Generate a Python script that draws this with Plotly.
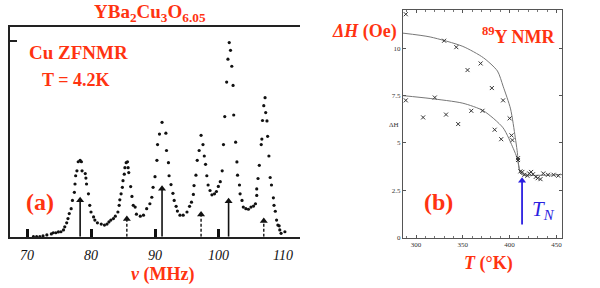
import plotly.graph_objects as go

W, H = 600, 288
RED = "#FF3311"
BLUE = "#2B1FE0"
SERIF = "Liberation Serif"

# ---------------- Panel (a): Cu zero-field NMR spectrum ----------------
freq_mhz = [71.0, 71.5, 72.0, 72.5, 73.1, 73.8, 74.1, 74.5, 74.9, 75.3,
            75.7, 75.9, 76.2, 76.4, 76.6, 76.9, 77.1, 77.4, 77.5, 77.6,
            77.8, 78.0, 78.3, 78.5, 78.6, 79.1, 79.2, 79.3, 79.6, 79.8,
            80.0, 80.4, 80.6, 81.0, 81.6, 82.1, 82.5, 82.8, 83.1, 83.5,
            83.8, 84.2, 84.4, 84.5, 84.7, 84.9, 85.0, 85.2, 85.3, 85.5,
            85.7, 85.8, 85.9, 86.2, 86.4, 86.6, 86.9, 87.1, 87.7, 88.2,
            88.7, 89.2, 89.5, 89.7, 90.0, 90.3, 90.4, 90.7, 91.1, 91.7,
            91.8, 92.1, 92.2, 92.5, 92.8, 93.0, 93.3, 93.5, 93.9, 94.4,
            95.0, 95.4, 95.7, 96.0, 96.1, 96.4, 96.6, 96.9, 97.2, 97.5,
            97.7, 97.9, 98.1, 98.3, 98.6, 98.9, 99.3, 99.6, 99.9, 100.2,
            100.5, 100.7, 100.9, 101.2, 101.4, 101.6, 101.8, 102.0, 102.2, 102.3,
            102.6, 102.8, 102.9, 103.2, 103.3, 103.6, 103.8, 104.2, 104.6, 105.0,
            105.4, 105.7, 105.9, 105.9, 106.1, 106.3, 106.6, 106.7, 106.8, 107.0,
            107.2, 107.3, 107.5, 107.6, 107.8, 108.0, 108.2, 108.5, 108.6, 108.8,
            109.0, 109.2, 109.4, 109.5, 109.7, 110.3]
intensity = [0.0, 0.0, 0.0, 0.4, 0.9, 1.4, 2.0, 2.0, 2.4, 2.5,
             3.4, 5.0, 7.0, 9.2, 11.7, 14.2, 18.4, 22.5, 26.7, 30.9,
             33.4, 38.0, 38.7, 38.0, 33.4, 32.0, 29.7, 26.7, 21.7, 15.9,
             12.5, 10.0, 8.4, 7.0, 6.4, 5.9, 6.4, 7.5, 8.4, 9.2,
             10.4, 12.5, 15.9, 18.7, 21.7, 25.0, 28.4, 31.7, 35.0, 37.5,
             38.0, 35.0, 32.5, 25.4, 20.4, 15.9, 15.0, 11.4, 10.4, 10.9,
             14.2, 16.7, 20.0, 25.0, 30.4, 38.7, 46.7, 52.0, 58.0, 52.5,
             43.7, 37.5, 30.9, 26.4, 22.0, 18.4, 15.4, 13.0, 10.9, 10.9,
             12.5, 15.4, 17.5, 21.4, 25.9, 31.2, 38.7, 43.7, 51.4, 46.7,
             40.9, 36.7, 30.9, 26.2, 23.4, 21.2, 21.7, 22.9, 25.5, 27.9,
             33.4, 46.7, 60.9, 78.4, 90.0, 98.4, 94.5, 86.4, 76.7, 61.7,
             47.9, 37.9, 31.2, 26.2, 21.7, 18.4, 15.0, 14.2, 13.9, 15.0,
             15.5, 16.7, 20.9, 24.2, 29.5, 36.2, 46.7, 49.5, 58.9, 66.4,
             70.5, 62.9, 58.7, 50.9, 40.9, 30.0, 26.2, 19.7, 15.9, 12.9,
             8.4, 5.9, 5.5, 3.4, 1.7, 2.5]

solid_arrow_freq = [78.3, 91.1, 101.5]
solid_arrow_height = [20.5, 26.3, 20.0]
dashed_arrow_freq = [85.6, 97.2, 107.0]
dashed_arrow_height = [10.9, 13.3, 10.0]

freq_tick_vals = [70, 80, 90, 100, 110]
freq_tick_text = ["70", "80", "90", "100", "110"]
freq_tick_marks = [70, 80, 90, 100]

# ---------------- Panel (b): 89Y NMR linewidth vs T ----------------
temp_fit_upper = [286, 315, 350, 372, 387, 393, 401, 406, 408, 411, 413, 456]
dH_fit_upper = [10.8, 10.6, 10.1, 9.5, 8.8, 8.0, 6.8, 5.3, 4.6, 3.45, 3.33, 3.33]
temp_fit_lower = [286, 315, 350, 372, 393, 404, 408, 411, 413]
dH_fit_lower = [7.5, 7.35, 7.1, 6.7, 5.8, 4.7, 4.2, 3.5, 3.33]

temp_upper = [289, 330, 343, 355, 369, 381, 393, 400, 402, 409, 411.5]
dH_upper = [11.8, 10.4, 10.06, 8.85, 9.2, 7.9, 7.25, 6.3, 5.4, 4.2, 3.5]
temp_lower = [289, 307.5, 320, 332, 345, 359, 371, 384, 391, 403, 409]
dH_lower = [7.25, 6.35, 7.4, 6.5, 6.0, 6.7, 6.7, 5.7, 5.2, 5.15, 4.1]
temp_para = [413.6, 415.8, 419, 421, 423, 425, 428, 430, 433, 436, 441, 447, 452]
dH_para = [3.47, 3.32, 3.27, 3.39, 3.47, 3.35, 3.21, 3.14, 3.09, 3.39, 3.32, 3.32, 3.27]

T_N = 413.3
tn_arrow_from = 0.7
tn_arrow_to = 3.25

temp_tick_vals = [300, 350, 400, 450]
dH_tick_vals = [0, 2.5, 5, 7.5, 10]
dH_tick_text = ["0", "2.5", "5", "7.5", "10"]

fig = go.Figure()

# spectrum dots
fig.add_trace(go.Scatter(x=freq_mhz, y=intensity, mode="markers",
                         marker=dict(size=3.2, color="#111"),
                         xaxis="x", yaxis="y", cliponaxis=False, showlegend=False))

# arrows (stems)
def stems(xs, hs):
    X, Y = [], []
    for x, h in zip(xs, hs):
        X += [x, x, None]
        Y += [0, h - 2.0, None]
    return X, Y

sx, sy = stems(solid_arrow_freq, solid_arrow_height)
fig.add_trace(go.Scatter(x=sx, y=sy, mode="lines", line=dict(color="#111", width=1.6),
                         xaxis="x", yaxis="y", showlegend=False))
dx, dy = stems(dashed_arrow_freq, dashed_arrow_height)
fig.add_trace(go.Scatter(x=dx, y=dy, mode="lines",
                         line=dict(color="#111", width=1.4, dash="3px,2px"),
                         xaxis="x", yaxis="y", showlegend=False))
fig.add_trace(go.Scatter(x=solid_arrow_freq + dashed_arrow_freq,
                         y=[h - 2.0 for h in solid_arrow_height + dashed_arrow_height],
                         mode="markers",
                         marker=dict(symbol="triangle-up", size=7, color="#111"),
                         xaxis="x", yaxis="y", showlegend=False))

# panel b curves
fig.add_trace(go.Scatter(x=temp_fit_upper, y=dH_fit_upper, mode="lines",
                         line=dict(color="#777", width=1, shape="spline", smoothing=0.7),
                         xaxis="x2", yaxis="y2", showlegend=False))
fig.add_trace(go.Scatter(x=temp_fit_lower, y=dH_fit_lower, mode="lines",
                         line=dict(color="#777", width=1, shape="spline", smoothing=0.7),
                         xaxis="x2", yaxis="y2", showlegend=False))
for tx, ty in [(temp_upper, dH_upper), (temp_lower, dH_lower), (temp_para, dH_para)]:
    fig.add_trace(go.Scatter(x=tx, y=ty, mode="markers",
                             marker=dict(symbol="x-thin", size=4,
                                         line=dict(color="#333", width=1)),
                             xaxis="x2", yaxis="y2", cliponaxis=False, showlegend=False))

# T_N arrow
fig.add_trace(go.Scatter(x=[T_N, T_N], y=[tn_arrow_from, tn_arrow_to - 0.25], mode="lines",
                         line=dict(color=BLUE, width=1.8),
                         xaxis="x2", yaxis="y2", showlegend=False))
fig.add_trace(go.Scatter(x=[T_N], y=[tn_arrow_to - 0.25], mode="markers",
                         marker=dict(symbol="triangle-up", size=7, color=BLUE),
                         xaxis="x2", yaxis="y2", showlegend=False))

def px_x(p):
    return p / W

def px_y(p):
    return 1 - p / H

axis_common = dict(showgrid=False, zeroline=False)
fig.update_layout(
    width=W, height=H, margin=dict(l=0, r=0, t=0, b=0),
    paper_bgcolor="white", plot_bgcolor="white",
    font=dict(family=SERIF),
    xaxis=dict(domain=[px_x(10), px_x(300)], range=[67.34, 112.66],
               showline=True, linecolor="#222", linewidth=2, mirror=True,
               ticks="inside", tickvals=freq_tick_marks, ticklen=8, tickwidth=3,
               tickcolor="#111", showticklabels=False, anchor="y", **axis_common),
    yaxis=dict(domain=[1 - 240 / H, 1 - 27 / H], range=[0, 106.5],
               showline=True, linecolor="#222", linewidth=2,
               ticks="inside", tickvals=[99], ticklen=7, tickwidth=2, tickcolor="#222",
               showticklabels=False, anchor="x", **axis_common),
    xaxis2=dict(domain=[px_x(403), px_x(562)], range=[286, 456],
                showline=True, linecolor="#555", linewidth=1, mirror="ticks",
                ticks="inside", tickvals=temp_tick_vals, ticklen=3, tickcolor="#555",
                minor=dict(ticks="inside", dtick=10, tick0=300, ticklen=2, tickcolor="#777"),
                tickfont=dict(size=7, color="#333", family=SERIF), anchor="y2",
                **axis_common),
    yaxis2=dict(domain=[1 - 241 / H, 1 - 10 / H], range=[0, 12.03],
                showline=True, linecolor="#555", linewidth=1, mirror="ticks",
                ticks="inside", tickvals=dH_tick_vals, ticktext=dH_tick_text,
                ticklen=3, tickcolor="#555",
                tickfont=dict(size=7, color="#333", family=SERIF), anchor="x2",
                **axis_common),
)

ann = []
for v, t in zip(freq_tick_vals, freq_tick_text):
    ann.append(dict(x=v, y=0, xref="x", yref="y", yshift=-19, text=f"<i>{t}</i>",
                    showarrow=False, font=dict(family=SERIF, size=14, color="#111")))

def label(x, y, text, size=18, color=RED):
    ann.append(dict(x=px_x(x), y=px_y(y), xref="paper", yref="paper", text=text,
                    showarrow=False, xanchor="center", yanchor="middle",
                    font=dict(family=SERIF, size=size, color=color)))

label(150, 13, "<b>YBa<sub>2</sub>Cu<sub>3</sub>O<sub>6.05</sub></b>", 19)
label(78, 53, "<b>Cu ZFNMR</b>", 19)
label(75, 81, "<b>T = 4.2K</b>", 18)
label(40, 205, "<b>(a)</b>", 24)
label(162, 278, "<b><i>ν</i> (MHz)</b>", 18)
label(364, 32, "<b><i>ΔH</i> (Oe)</b>", 18)
label(518, 36, "<b><sup>89</sup>Y NMR</b>", 18)
label(438, 205, "<b>(b)</b>", 24)
label(488, 267, "<b><i>T</i> (°K)</b>", 18)
label(543, 213, "<i>T</i><sub><i>N</i></sub>", 21, BLUE)
label(394, 127, "ΔH", 7, "#333")

fig.update_layout(annotations=ann)
fig.write_html("out.html")
